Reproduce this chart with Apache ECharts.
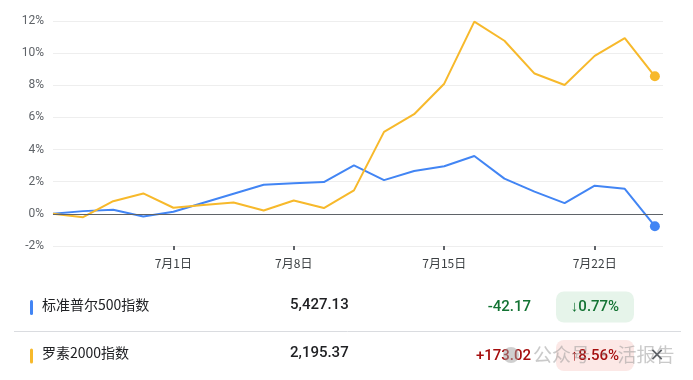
<!DOCTYPE html>
<html>
<head>
    <meta charset="utf-8">
    <title>ECharts</title>
    <script src="https://cdn.jsdelivr.net/npm/echarts@6/dist/echarts.min.js"></script>
</head>
<body style="margin:0;background:#fff;">
<div id="main" style="width: 693px; height:380px;"></div>
<script type="text/javascript">
    // 交易日（按序号等距排列）
    var dates = ['6月25日', '6月26日', '6月27日', '6月28日', '7月1日', '7月2日', '7月3日', '7月5日',
        '7月8日', '7月9日', '7月10日', '7月11日', '7月12日', '7月15日', '7月16日', '7月17日',
        '7月18日', '7月19日', '7月22日', '7月23日', '7月24日'];
    var tickIdx = [4, 8, 13, 18];
    var yTicks = [-2, 0, 2, 4, 6, 8, 10, 12];

    // 累计涨跌幅 %
    var spx = [0, 0.17, 0.25, -0.17, 0.13, 0.69, 1.25, 1.81, 1.9, 1.98, 3.02,
        2.1, 2.67, 2.96, 3.6, 2.19, 1.38, 0.67, 1.75, 1.56, -0.77];
    var rut = [0, -0.21, 0.79, 1.27, 0.38, 0.55, 0.71, 0.21, 0.83, 0.36, 1.46,
        5.1, 6.2, 8.1, 11.96, 10.77, 8.73, 8.02, 9.83, 10.94, 8.56];

    // 下方表格
    var names = ['标准普尔500指数', '罗素2000指数'];
    var prices = ['5,427.13', '2,195.37'];
    var changes = ['-42.17', '+173.02'];
    var pcts = ['↓0.77%', '↑8.56%'];

    var BLUE = '#4285f4', YELLOW = '#f7b92b';
    var colors = [BLUE, YELLOW];

    function toData(arr) {
        return arr.map(function (v, i) {
            if (i === arr.length - 1) {
                return {value: [i, v], symbol: 'circle', symbolSize: 10};
            }
            return [i, v];
        });
    }

    var myChart = echarts.init(document.getElementById('main'));

    var graphics = [];
    var rowY = [307.5, 356];
    for (var r = 0; r < 2; r++) {
        var up = r === 1;
        var fg = up ? '#a50e0e' : '#137333';
        var bg = up ? '#fce8e6' : '#e6f4ea';
        graphics.push({
            type: 'rect', left: 30, top: rowY[r] - 7.5,
            shape: {width: 3, height: 15, r: 1.5}, style: {fill: colors[r]}
        });
        graphics.push({
            type: 'text', left: 42, top: rowY[r] - 10,
            style: {text: names[r], fill: '#202124', font: '14px "Noto Sans CJK SC"'}
        });
        graphics.push({
            type: 'text', left: 290, top: rowY[r] - 10,
            style: {text: prices[r], fill: '#202124', font: '500 15px Roboto'}
        });
        graphics.push({
            type: 'text', x: 531, y: rowY[r],
            style: {text: changes[r], fill: fg, font: '500 15px Roboto', align: 'right', verticalAlign: 'middle'}
        });
        graphics.push({
            type: 'rect', x: 556, y: rowY[r] - 16,
            shape: {width: 78, height: 31, r: 8}, style: {fill: bg}
        });
        graphics.push({
            type: 'text', x: 595, y: rowY[r],
            style: {text: pcts[r], fill: fg, font: '500 15px Roboto', align: 'center', verticalAlign: 'middle'}
        });
    }
    graphics.push({
        type: 'line', shape: {x1: 14, y1: 331.5, x2: 681, y2: 331.5},
        style: {stroke: '#dadce0', lineWidth: 1}
    });
    // 水印
    graphics.push({
        type: 'circle', shape: {cx: 511, cy: 355, r: 8},
        style: {fill: 'rgba(160,160,160,0.5)'}
    });
    graphics.push({
        type: 'text', x: 533, y: 355,
        style: {text: '公众号 · 活报告', fill: 'rgba(150,150,150,0.5)', font: '19px "Noto Sans CJK SC"', verticalAlign: 'middle'}
    });
    graphics.push({
        type: 'text', x: 657, y: 356,
        style: {text: '✕', fill: '#5f6368', font: '18px "DejaVu Sans"', align: 'center', verticalAlign: 'middle'}
    });

    var option = {
        backgroundColor: '#fff',
        animation: false,
        grid: {left: 53, right: 30, top: 21, bottom: 134},
        xAxis: {
            type: 'value',
            min: 0,
            max: 20.27,
            axisLine: {show: false, onZero: false},
            splitLine: {show: false},
            axisTick: {
                show: true, customValues: tickIdx, length: 4,
                lineStyle: {color: '#5f6368', width: 2}
            },
            axisLabel: {
                customValues: tickIdx, margin: 11,
                color: '#3c4043', fontSize: 12, fontFamily: 'Noto Sans CJK SC',
                formatter: function (v) { return dates[v]; }
            }
        },
        yAxis: {
            type: 'value',
            min: yTicks[0],
            max: yTicks[yTicks.length - 1],
            interval: 2,
            axisLine: {show: false},
            axisTick: {show: false},
            splitLine: {lineStyle: {color: '#eeeeee', width: 1}},
            axisLabel: {
                margin: 9, color: '#5f6368', fontSize: 12, fontFamily: 'Roboto',
                formatter: '{value}%'
            }
        },
        series: [
            {
                name: names[0], type: 'line', data: toData(spx),
                symbol: 'none', showSymbol: true,
                lineStyle: {color: BLUE, width: 2}, itemStyle: {color: BLUE},
                markLine: {
                    silent: true, symbol: 'none', label: {show: false},
                    lineStyle: {color: '#5f6368', width: 1, type: 'solid'},
                    data: [{yAxis: 0}]
                },
                z: 3
            },
            {
                name: names[1], type: 'line', data: toData(rut),
                symbol: 'none', showSymbol: true,
                lineStyle: {color: YELLOW, width: 2}, itemStyle: {color: YELLOW},
                z: 4
            }
        ],
        graphic: graphics
    };

    myChart.setOption(option);
</script>
</body>
</html>
